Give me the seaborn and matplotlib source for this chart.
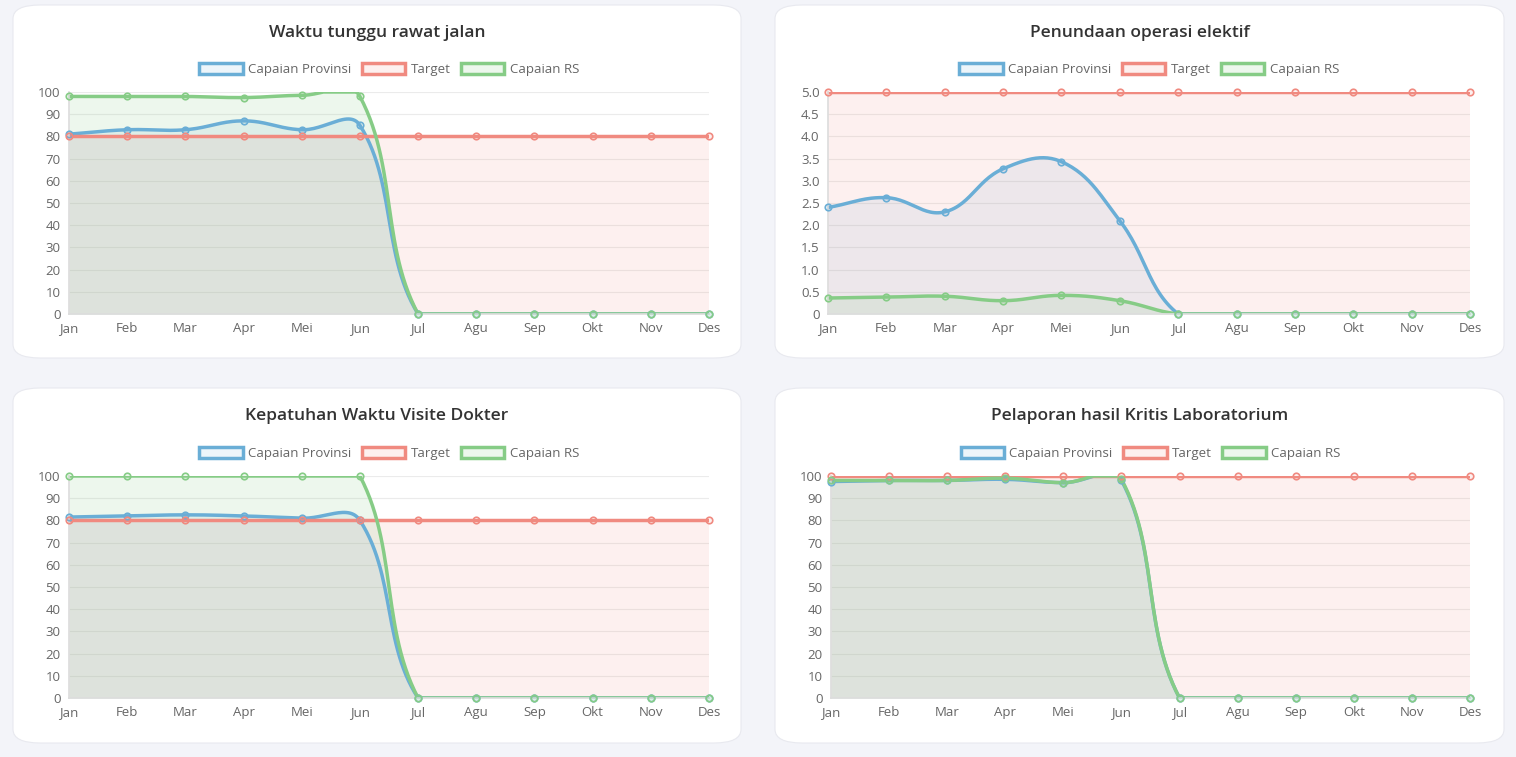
import matplotlib
matplotlib.use("Agg")
import matplotlib.pyplot as plt
import numpy as np
import pandas as pd
import seaborn as sns
from matplotlib.patches import FancyBboxPatch, Patch

months = ["Jan", "Feb", "Mar", "Apr", "Mei", "Jun", "Jul", "Agu", "Sep", "Okt", "Nov", "Des"]

titles = ["Waktu tunggu rawat jalan", "Penundaan operasi elektif",
          "Kepatuhan Waktu Visite Dokter", "Pelaporan hasil Kritis Laboratorium"]

prov_1 = [81, 83, 83, 87, 83, 85, 0, 0, 0, 0, 0, 0]
target_1 = [80] * 12
rs_1 = [98, 98, 98, 97.5, 98.5, 98, 0, 0, 0, 0, 0, 0]

prov_2 = [2.4, 2.62, 2.3, 3.27, 3.43, 2.1, 0, 0, 0, 0, 0, 0]
target_2 = [5] * 12
rs_2 = [0.36, 0.38, 0.4, 0.3, 0.42, 0.3, 0, 0, 0, 0, 0, 0]

prov_3 = [81.5, 82, 82.5, 82, 81, 80, 0, 0, 0, 0, 0, 0]
target_3 = [80] * 12
rs_3 = [100, 100, 100, 100, 100, 100, 0, 0, 0, 0, 0, 0]

prov_4 = [97.5, 98, 98, 98.5, 97, 98, 0, 0, 0, 0, 0, 0]
target_4 = [100] * 12
rs_4 = [98, 98, 98, 99, 97, 98.5, 0, 0, 0, 0, 0, 0]

charts = [(prov_1, target_1, rs_1, 100, 10), (prov_2, target_2, rs_2, 5, 0.5),
          (prov_3, target_3, rs_3, 100, 10), (prov_4, target_4, rs_4, 100, 10)]

BLUE, RED, GREEN = "#6aaed6", "#f08a80", "#86cc86"
FILLS = {BLUE: (0.42, 0.68, 0.84, 0.12), RED: (0.94, 0.54, 0.5, 0.12), GREEN: (0.53, 0.8, 0.53, 0.15)}


def smooth(y, ymax, tension=0.4, n=30):
    # chart.js style bezier interpolation in pixel-like space
    px = np.arange(len(y)) * 58.0
    py = np.array(y, float) / ymax * 222.0
    xs, ys = [], []
    cps = []
    for i in range(len(y)):
        p0 = max(i - 1, 0); p2 = min(i + 1, len(y) - 1)
        d01 = np.hypot(px[i] - px[p0], py[i] - py[p0])
        d12 = np.hypot(px[p2] - px[i], py[p2] - py[i])
        s = d01 + d12 if d01 + d12 > 0 else 1
        fa, fb = tension * d01 / s, tension * d12 / s
        dx, dy = px[p2] - px[p0], py[p2] - py[p0]
        cps.append(((px[i] - fa * dx, py[i] - fa * dy), (px[i] + fb * dx, py[i] + fb * dy)))
    t = np.linspace(0, 1, n)
    for i in range(len(y) - 1):
        a = np.array([px[i], py[i]]); b = np.array(cps[i][1])
        c = np.array(cps[i + 1][0]); d = np.array([px[i + 1], py[i + 1]])
        pts = ((1 - t) ** 3)[:, None] * a + (3 * (1 - t) ** 2 * t)[:, None] * b + \
              (3 * (1 - t) * t ** 2)[:, None] * c + (t ** 3)[:, None] * d
        xs.extend(pts[:, 0] / 58.0); ys.extend(pts[:, 1])
    ys = np.clip(np.array(ys), 0, 222) / 222.0 * ymax
    return np.array(xs), ys


sns.set_theme(style="white")
plt.rcParams["font.family"] = ["Open Sans", "DejaVu Sans"]
fig = plt.figure(figsize=(15.16, 7.57), dpi=100)
fig.patch.set_facecolor("#f3f4f9")

W, H = 1516, 757
cards = [(13, 5, 728, 353), (775, 5, 729, 353), (13, 388, 728, 355), (775, 388, 729, 355)]
axes_px = [(69, 92, 640, 222), (828, 92, 642, 222), (69, 476, 640, 222), (831, 476, 639, 222)]

for k, (cx, cy, cw, ch) in enumerate(cards):
    fig.patches.append(FancyBboxPatch((cx / W, 1 - (cy + ch) / H), cw / W, ch / H,
                                      boxstyle="round,pad=0,rounding_size=0.018",
                                      transform=fig.transFigure, facecolor="white",
                                      edgecolor="#e8e9ef", linewidth=0.8, zorder=-5))
    prov, target, rs, ymax, step = charts[k]
    ax_x, ax_y, ax_w, ax_h = axes_px[k]
    ax = fig.add_axes([ax_x / W, 1 - (ax_y + ax_h) / H, ax_w / W, ax_h / H])
    ax.set_zorder(2)
    ax.set_facecolor("none")
    for vals, col in [(prov, BLUE), (target, RED), (rs, GREEN)]:
        xs, ys = smooth(vals, ymax)
        ax.fill_between(xs, 0, ys, color=FILLS[col], linewidth=0)
        sns.lineplot(x=xs, y=ys, ax=ax, color=col, linewidth=2.5, sort=False)
        sns.scatterplot(x=np.arange(12), y=vals, ax=ax, s=22, facecolor=FILLS[col],
                        edgecolor=col, linewidth=1.2, zorder=5, clip_on=False)
    ax.set_xlim(0, 11)
    ax.set_ylim(0, ymax)
    ax.set_xticks(range(12))
    ax.set_xticklabels(months)
    yt = np.arange(0, ymax + step / 2, step)
    ax.set_yticks(yt)
    ax.set_yticklabels(["0"] + [(f"{v:.1f}" if step < 1 else f"{v:.0f}") for v in yt[1:]])
    ax.tick_params(labelsize=9.5, colors="#666666", length=0, pad=6)
    ax.grid(axis="y", color="#ebebeb", linewidth=0.8)
    for s in ["top", "right"]:
        ax.spines[s].set_visible(False)
    for s in ["left", "bottom"]:
        ax.spines[s].set_color("#dddddd")
    handles = [Patch(facecolor=FILLS[c], edgecolor=c, linewidth=2.5, label=l)
               for c, l in [(BLUE, "Capaian Provinsi"), (RED, "Target"), (GREEN, "Capaian RS")]]
    ax.legend(handles=handles, loc="lower center", bbox_to_anchor=(0.5, 1.02), ncol=3,
              frameon=False, fontsize=9.5, handlelength=3.3, handleheight=0.9,
              columnspacing=0.8, handletextpad=0.4, labelcolor="#666666")
    fig.text((cx + cw / 2) / W, 1 - (cy + 28) / H, titles[k], ha="center", va="center",
             fontsize=12.5, fontweight="semibold", color="#333333")

fig.savefig("out.png", dpi=100, facecolor=fig.get_facecolor())
